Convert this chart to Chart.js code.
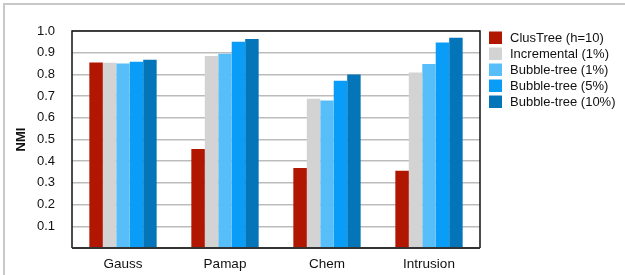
<!DOCTYPE html>
<html>
<head>
<meta charset="utf-8">
<script src="https://cdn.jsdelivr.net/npm/chart.js@4/dist/chart.umd.min.js"></script>
<style>
html,body{margin:0;padding:0;background:#fff;}
#wrap{width:625px;height:275px;position:relative;}
</style>
</head>
<body>
<div id="wrap"><canvas id="c" width="625" height="275"></canvas></div>
<script>
const categories = ["Gauss", "Pamap", "Chem", "Intrusion"];
const seriesNames = ["ClusTree (h=10)", "Incremental (1%)", "Bubble-tree (1%)", "Bubble-tree (5%)", "Bubble-tree (10%)"];
const clusTree = [0.855, 0.456, 0.369, 0.356];
const incremental1 = [0.854, 0.885, 0.688, 0.809];
const bubble1 = [0.850, 0.895, 0.680, 0.848];
const bubble5 = [0.858, 0.951, 0.771, 0.947];
const bubble10 = [0.867, 0.963, 0.800, 0.969];
const yTicks = [0.1, 0.2, 0.3, 0.4, 0.5, 0.6, 0.7, 0.8, 0.9, 1.0];
const seriesColors = ["#B01600", "#D3D3D3", "#58BEFA", "#0A9DF8", "#0475B9"];

const seriesValues = [clusTree, incremental1, bubble1, bubble5, bubble10];
const FONT = "'Liberation Sans', Arial, Helvetica, sans-serif";

const framePlugin = {
  id: 'frame',
  beforeDraw(chart) {
    const ctx = chart.ctx;
    ctx.save();
    ctx.strokeStyle = '#c8c8c8';
    ctx.lineWidth = 2;
    ctx.beginPath();
    ctx.moveTo(4, 275);
    ctx.lineTo(4, 4);
    ctx.lineTo(625, 4);
    ctx.stroke();
    ctx.restore();
  },
  afterDatasetsDraw(chart) {
    const {ctx, chartArea: a} = chart;
    ctx.save();
    ctx.strokeStyle = '#111';
    ctx.lineWidth = 1.5;
    ctx.beginPath();
    ctx.moveTo(a.left, a.bottom);
    ctx.lineTo(a.left, a.top);
    ctx.lineTo(a.right, a.top);
    ctx.lineTo(a.right, a.bottom);
    ctx.stroke();
    ctx.strokeStyle = '#333';
    ctx.lineWidth = 2;
    ctx.beginPath();
    ctx.moveTo(a.left, a.bottom);
    ctx.lineTo(a.right, a.bottom);
    ctx.stroke();
    ctx.restore();
  },
  afterDraw(chart) {
    const ctx = chart.ctx;
    ctx.save();
    ctx.font = "13px " + FONT;
    ctx.textBaseline = 'middle';
    ctx.textAlign = 'left';
    chart.data.datasets.forEach((ds, i) => {
      const y = 31.5 + i * 16;
      ctx.fillStyle = ds.backgroundColor;
      ctx.fillRect(489, y, 13, 12.5);
      ctx.fillStyle = '#111';
      ctx.fillText(ds.label, 510, y + 6.5);
    });
    ctx.restore();
  }
};

new Chart(document.getElementById('c'), {
  type: 'bar',
  data: {
    labels: categories,
    datasets: seriesNames.map((name, i) => ({
      label: name,
      data: seriesValues[i],
      backgroundColor: seriesColors[i],
      borderWidth: 0,
      barPercentage: 1.0,
      categoryPercentage: 0.66
    }))
  },
  options: {
    responsive: false,
    animation: false,
    devicePixelRatio: 1,
    layout: { padding: { top: 31, right: 145, bottom: 0, left: 0 } },
    plugins: {
      legend: { display: false },
      tooltip: { enabled: false }
    },
    scales: {
      x: {
        grid: { display: false, drawTicks: false },
        border: { display: false },
        ticks: { color: '#111', font: { family: FONT, size: 13.5 }, padding: 8 },
        afterFit(scale) { scale.height = 27; }
      },
      y: {
        min: 0,
        max: 1,
        afterBuildTicks(scale) {
          scale.ticks = [0].concat(yTicks).map(v => ({ value: v }));
        },
        grid: { color: '#bcbcbc', lineWidth: 1.5, drawTicks: false },
        border: { display: false },
        ticks: {
          color: '#111',
          font: { family: FONT, size: 13 },
          padding: 17,
          callback: (v) => v === 0 ? '' : Number(v).toFixed(1)
        },
        title: { display: true, text: 'NMI', color: '#111', font: { family: FONT, size: 13, weight: 'bold' }, padding: { top: 14, bottom: 0 } },
        afterFit(scale) { scale.width = 72; }
      }
    }
  },
  plugins: [framePlugin]
});
</script>
</body>
</html>
